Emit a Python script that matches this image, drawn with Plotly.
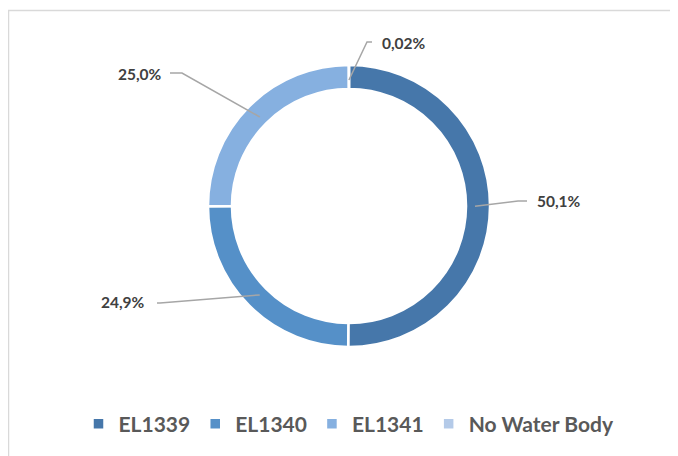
import math
import plotly.graph_objects as go

# ---- data ----
categories = ["EL1339", "EL1340", "EL1341", "No Water Body"]
values = [50.1, 24.9, 25.0, 0.02]
colors = ["#4677AA", "#5590C8", "#86B0E0", "#B4CAE8"]

OFF = 8                     # page body margin
W, H = 678 - OFF, 456 - OFF
CX, CY = 349, 206           # donut centre (screen px)
R_OUT = 141                 # outer radius (px)
HOLE = 0.83
R_ANCHOR = 126              # leader line anchor radius (px)

def px(x):
    return (x - OFF) / W

def py(y):
    return 1 - (y - OFF) / H

def fmt(v):
    s = f"{v:.2f}" if v < 1 else f"{v:.1f}"
    return s.replace(".", ",") + "%"

fig = go.Figure(go.Pie(
    labels=categories, values=values, sort=False, direction="clockwise",
    rotation=0, hole=HOLE, textinfo="none", hoverinfo="label+percent",
    marker=dict(colors=colors, line=dict(color="white", width=2.5)),
    domain=dict(x=[px(CX - R_OUT), px(CX + R_OUT)], y=[py(CY + R_OUT), py(CY - R_OUT)]),
))

# label layout (text centre, elbow point, line start) per category, in px
label_layout = {
    "EL1339": dict(text=(559, 201), elbow=(518, 201), edge=(527, 201)),
    "EL1340": dict(text=(123, 302), elbow=(160, 303), edge=(157, 303)),
    "EL1341": dict(text=(140, 74), elbow=(182, 73), edge=(170, 73)),
    "No Water Body": dict(text=(404, 43), elbow=(367, 42), edge=(372, 42)),
}

total = sum(values)
cum = 0.0
shapes = []
annotations = []
for cat, v in zip(categories, values):
    mid = (cum + v / 2) / total * 2 * math.pi
    cum += v
    ax_ = CX + R_ANCHOR * math.sin(mid)
    ay_ = CY - R_ANCHOR * math.cos(mid)
    L = label_layout[cat]
    path = (f"M {px(L['edge'][0])},{py(L['edge'][1])} "
            f"L {px(L['elbow'][0])},{py(L['elbow'][1])} "
            f"L {px(ax_)},{py(ay_)}")
    shapes.append(dict(type="path", xref="paper", yref="paper", path=path,
                       line=dict(color="#A6A6A6", width=1.5)))
    annotations.append(dict(x=px(L["text"][0]), y=py(L["text"][1]), xref="paper", yref="paper",
                            text=f"<b>{fmt(v)}</b>", showarrow=False, xanchor="center",
                            yanchor="middle", font=dict(size=15.5, color="#404040", family="Lato")))

# outer frame (left and top visible)
shapes.append(dict(type="rect", xref="paper", yref="paper", x0=px(8.5), x1=px(W + 20),
                   y0=py(H + 20), y1=py(10.5), line=dict(color="#D9D9D9", width=1.5),
                   layer="below"))

fig.update_layout(
    width=W, height=H, margin=dict(l=0, r=0, t=0, b=0),
    paper_bgcolor="white", plot_bgcolor="white",
    font=dict(family="Lato"),
    shapes=shapes, annotations=annotations,
    showlegend=True,
    legend=dict(orientation="h", x=px(349), xanchor="center", y=py(424), yanchor="middle",
                font=dict(size=21, color="#595959", family="Lato", weight="bold"),
                itemwidth=30, traceorder="normal"),
)

fig.write_html("out.html")
